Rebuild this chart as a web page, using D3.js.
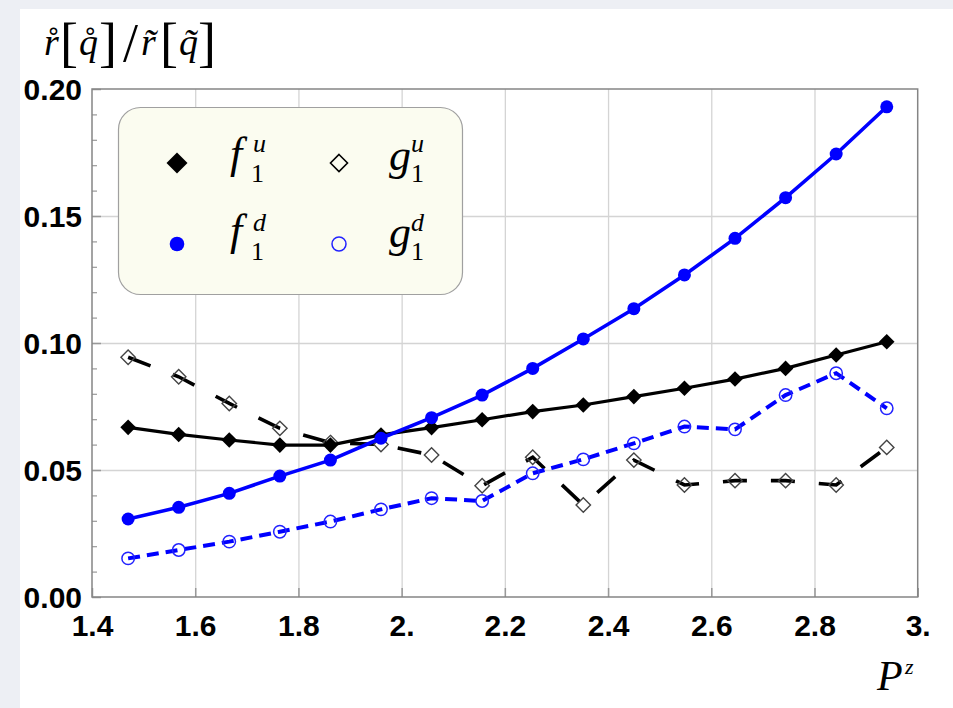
<!DOCTYPE html>
<html>
<head>
<meta charset="utf-8">
<script src="https://cdn.jsdelivr.net/npm/d3@7"></script>
<style>
  html, body { margin: 0; padding: 0; background: #edeff4; }
  svg { display: block; }
  .tick text { font-family: "Liberation Sans", Arial, sans-serif; font-weight: bold; font-size: 30px; fill: #000; }
  .math { font-family: "Liberation Serif", "Times New Roman", serif; fill: #000; }
</style>
</head>
<body>
<svg id="chart" width="953" height="708"></svg>
<script>
// Momentum values P^z (lattice units)
const pz = [1.47, 1.568, 1.666, 1.764, 1.862, 1.96, 2.058, 2.156, 2.254, 2.352, 2.45, 2.548, 2.646, 2.744, 2.842, 2.94];

// Ratios for each channel
const f1u = [0.0668, 0.0640, 0.0618, 0.0598, 0.0598, 0.0638, 0.0667, 0.0698, 0.0730, 0.0756, 0.0789, 0.0822, 0.0858, 0.0900, 0.0953, 0.1005];
const g1u = [0.0944, 0.0867, 0.0762, 0.0664, 0.0608, 0.0600, 0.0559, 0.0438, 0.0550, 0.0362, 0.0539, 0.0441, 0.0458, 0.0458, 0.0441, 0.0589];
const f1d = [0.0307, 0.0353, 0.0408, 0.0476, 0.0539, 0.0625, 0.0706, 0.0795, 0.0900, 0.1016, 0.1135, 0.1268, 0.1412, 0.1572, 0.1744, 0.1930];
const g1d = [0.0152, 0.0185, 0.0218, 0.0257, 0.0297, 0.0345, 0.0389, 0.0378, 0.0487, 0.0542, 0.0605, 0.0671, 0.0660, 0.0795, 0.0881, 0.0743];

// Axis ticks
const xTicks = [1.4, 1.6, 1.8, 2.0, 2.2, 2.4, 2.6, 2.8, 3.0];
const xTickLabels = ["1.4", "1.6", "1.8", "2.", "2.2", "2.4", "2.6", "2.8", "3."];
const yTicks = [0.00, 0.05, 0.10, 0.15, 0.20];
const yTickLabels = ["0.00", "0.05", "0.10", "0.15", "0.20"];
const yMinorTicks = [0.01, 0.02, 0.03, 0.04, 0.06, 0.07, 0.08, 0.09, 0.11, 0.12, 0.13, 0.14, 0.16, 0.17, 0.18, 0.19];

const svg = d3.select("#chart");

// White page panel
svg.append("rect").attr("x", 20).attr("y", 9).attr("width", 933).attr("height", 699).attr("fill", "#ffffff");

const pLeft = 92, pRight = 917.7, pTop = 89, pBottom = 597;
const x = d3.scaleLinear().domain([1.4, 3.0]).range([pLeft, pRight]);
const y = d3.scaleLinear().domain([0, 0.2]).range([pBottom, pTop]);

// Grid lines
const grid = svg.append("g");
grid.append("g")
  .attr("transform", `translate(0,${pBottom})`)
  .call(d3.axisBottom(x).tickValues(xTicks.slice(1, -1)).tickSize(-(pBottom - pTop)).tickFormat(""))
  .call(g => g.select(".domain").remove())
  .call(g => g.selectAll("line").attr("stroke", "#d4d4d4").attr("stroke-width", 1.3));
grid.append("g")
  .attr("transform", `translate(${pLeft},0)`)
  .call(d3.axisLeft(y).tickValues(yTicks.slice(1, -1)).tickSize(-(pRight - pLeft)).tickFormat(""))
  .call(g => g.select(".domain").remove())
  .call(g => g.selectAll("line").attr("stroke", "#d4d4d4").attr("stroke-width", 1.3));

// Axes with inward ticks
svg.append("g")
  .attr("transform", `translate(0,${pBottom})`)
  .call(d3.axisBottom(x).tickValues(xTicks).tickSizeInner(-9).tickSizeOuter(0).tickPadding(12)
    .tickFormat((d, i) => xTickLabels[i]))
  .call(g => g.select(".domain").remove())
  .call(g => g.selectAll("line").attr("stroke", "#999").attr("stroke-width", 1.5))
  .call(g => g.selectAll("text").attr("dy", null).attr("y", 39));

svg.append("g")
  .attr("transform", `translate(${pLeft},0)`)
  .call(d3.axisLeft(y).tickValues(yMinorTicks).tickSizeInner(-5).tickSizeOuter(0).tickFormat(""))
  .call(g => g.select(".domain").remove())
  .call(g => g.selectAll("line").attr("stroke", "#999").attr("stroke-width", 1.2));

svg.append("g")
  .attr("transform", `translate(${pLeft},0)`)
  .call(d3.axisLeft(y).tickValues(yTicks).tickSizeInner(-9).tickSizeOuter(0).tickPadding(10)
    .tickFormat((d, i) => yTickLabels[i]))
  .call(g => g.select(".domain").remove())
  .call(g => g.selectAll("line").attr("stroke", "#999").attr("stroke-width", 1.5))
  .call(g => g.selectAll("text").attr("dy", "0.36em"));

// Frame
svg.append("rect")
  .attr("x", pLeft).attr("y", pTop)
  .attr("width", pRight - pLeft).attr("height", pBottom - pTop)
  .attr("fill", "none").attr("stroke", "#858585").attr("stroke-width", 1.5);

// Series
const line = d3.line().x(d => x(d[0])).y(d => y(d[1]));
const zip = vals => pz.map((p, i) => [p, vals[i]]);

const diamond = s => `M0,${-s}L${s},0L0,${s}L${-s},0Z`;

function drawSeries(vals, color, dash, width) {
  svg.append("path")
    .datum(zip(vals))
    .attr("d", line)
    .attr("fill", "none")
    .attr("stroke", color)
    .attr("stroke-width", width)
    .attr("stroke-dasharray", dash);
}

// g1^u : dashed black with open diamonds
drawSeries(g1u, "#000", "24,24", 3.6);
svg.append("g").selectAll("path").data(zip(g1u)).join("path")
  .attr("transform", d => `translate(${x(d[0])},${y(d[1])})`)
  .attr("d", diamond(7.2))
  .attr("fill", "none").attr("stroke", "#444").attr("stroke-width", 1.4);

// f1^u : solid black with filled diamonds
drawSeries(f1u, "#000", null, 3.2);
svg.append("g").selectAll("path").data(zip(f1u)).join("path")
  .attr("transform", d => `translate(${x(d[0])},${y(d[1])})`)
  .attr("d", diamond(7.8))
  .attr("fill", "#000");

// g1^d : dashed blue with open circles
drawSeries(g1d, "#0000ff", "12,7", 4);
svg.append("g").selectAll("circle").data(zip(g1d)).join("circle")
  .attr("cx", d => x(d[0])).attr("cy", d => y(d[1])).attr("r", 6.2)
  .attr("fill", "none").attr("stroke", "#2222ff").attr("stroke-width", 1.5);

// f1^d : solid blue with filled circles
drawSeries(f1d, "#0000ff", null, 3.6);
svg.append("g").selectAll("circle").data(zip(f1d)).join("circle")
  .attr("cx", d => x(d[0])).attr("cy", d => y(d[1])).attr("r", 6.5)
  .attr("fill", "#0000ff");

// Legend
const lg = svg.append("g");
lg.append("rect")
  .attr("x", 118.5).attr("y", 107.5).attr("width", 344).attr("height", 187)
  .attr("rx", 22).attr("ry", 22)
  .attr("fill", "#fbfcf0").attr("stroke", "#a0a0a0").attr("stroke-width", 1.2);

const legendRows = [
  { mk: "fd", mx: 177, my: 163, base: "f", bx: 230, sub: "1", sx: 251, sup: "u", supx: 253, by: 168, sby: 182, pby: 152 },
  { mk: "od", mx: 339, my: 163, base: "g", bx: 389, sub: "1", sx: 411, sup: "u", supx: 411, by: 170, sby: 182, pby: 152 },
  { mk: "fc", mx: 177, my: 244, base: "f", bx: 230, sub: "1", sx: 251, sup: "d", supx: 253, by: 245, sby: 260, pby: 230.5 },
  { mk: "oc", mx: 339, my: 244, base: "g", bx: 389, sub: "1", sx: 411, sup: "d", supx: 411, by: 247, sby: 260, pby: 230.5 }
];
legendRows.forEach(r => {
  if (r.mk === "fd") lg.append("path").attr("transform", `translate(${r.mx},${r.my})`).attr("d", diamond(10.5)).attr("fill", "#000");
  if (r.mk === "od") lg.append("path").attr("transform", `translate(${r.mx},${r.my})`).attr("d", diamond(8.5)).attr("fill", "none").attr("stroke", "#000").attr("stroke-width", 1.6);
  if (r.mk === "fc") lg.append("circle").attr("cx", r.mx).attr("cy", r.my).attr("r", 7.3).attr("fill", "#0000ff");
  if (r.mk === "oc") lg.append("circle").attr("cx", r.mx).attr("cy", r.my).attr("r", 7).attr("fill", "none").attr("stroke", "#2222ff").attr("stroke-width", 1.5);
  const t = lg.append("text").attr("class", "math");
  t.append("tspan").attr("x", r.bx).attr("y", r.by).attr("font-size", 44).attr("font-style", "italic").text(r.base);
  t.append("tspan").attr("x", r.sx).attr("y", r.sby).attr("font-size", 26).text(r.sub);
  t.append("tspan").attr("x", r.supx).attr("y", r.pby).attr("font-size", 26).attr("font-style", "italic").text(r.sup);
});

// Vertical axis title: r̊[q̊]/r̃[q̃] (accents as combining marks)
const tparts = [
  { t: "r\u030A", x: 44, y: 55, fs: 38, it: true },
  { t: "[", x: 60, y: 61, fs: 54, it: false },
  { t: "q\u030A", x: 79, y: 55, fs: 38, it: true },
  { t: "]", x: 99, y: 61, fs: 54, it: false },
  { t: "/", x: 123, y: 61, fs: 54, it: false },
  { t: "r\u0303", x: 141, y: 55, fs: 38, it: true },
  { t: "[", x: 160, y: 61, fs: 54, it: false },
  { t: "q\u0303", x: 179, y: 55, fs: 38, it: true },
  { t: "]", x: 198, y: 61, fs: 54, it: false }
];
const title = svg.append("text").attr("class", "math");
tparts.forEach(p => {
  title.append("tspan").attr("x", p.x).attr("y", p.y).attr("font-size", p.fs)
    .attr("font-style", p.it ? "italic" : "normal").text(p.t);
});

// Horizontal axis title: P^z
const px = svg.append("text").attr("class", "math");
px.append("tspan").attr("x", 877).attr("y", 690).attr("font-size", 42).attr("font-style", "italic").text("P");
px.append("tspan").attr("x", 905).attr("y", 674).attr("font-size", 22).attr("font-style", "italic").text("z");
</script>
</body>
</html>
